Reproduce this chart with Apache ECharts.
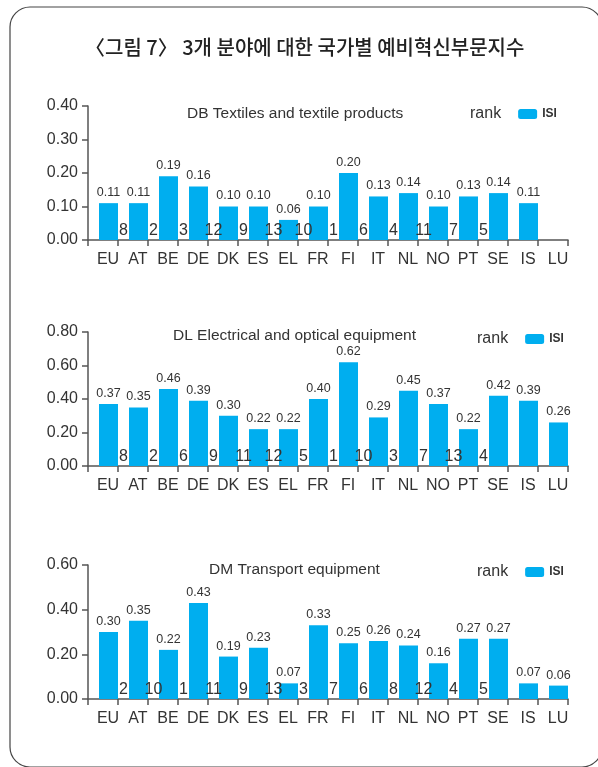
<!DOCTYPE html>
<html>
<head>
<meta charset="utf-8">
<script src="https://cdn.jsdelivr.net/npm/echarts@6/dist/echarts.min.js"></script>
<style>
  html, body { margin: 0; padding: 0; background: #fff; }
  #chart { width: 598px; height: 767px; }
</style>
</head>
<body>
<div id="chart"></div>
<script>
  // 국가 (공통 카테고리)
  var countries = ['EU', 'AT', 'BE', 'DE', 'DK', 'ES', 'EL', 'FR', 'FI', 'IT', 'NL', 'NO', 'PT', 'SE', 'IS', 'LU']

  // 패널 제목
  var panelTitles = ['DB Textiles and textile products', 'DL Electrical and optical equipment', 'DM Transport equipment']

  // ISI 값
  var isiDB = [0.11, 0.11, 0.19, 0.16, 0.10, 0.10, 0.06, 0.10, 0.20, 0.13, 0.14, 0.10, 0.13, 0.14, 0.11, null]
  var isiDL = [0.37, 0.35, 0.46, 0.39, 0.30, 0.22, 0.22, 0.40, 0.62, 0.29, 0.45, 0.37, 0.22, 0.42, 0.39, 0.26]
  var isiDM = [0.30, 0.35, 0.22, 0.43, 0.19, 0.23, 0.07, 0.33, 0.25, 0.26, 0.24, 0.16, 0.27, 0.27, 0.07, 0.06]

  // 순위 (EU, IS, LU 없음)
  var rankDB = [null, 8, 2, 3, 12, 9, 13, 10, 1, 6, 4, 11, 7, 5, null, null]
  var rankDL = [null, 8, 2, 6, 9, 11, 12, 5, 1, 10, 3, 7, 13, 4, null, null]
  var rankDM = [null, 2, 10, 1, 11, 9, 13, 3, 7, 6, 8, 12, 4, 5, null, null]

  // y축 눈금
  var yMaxes = [0.4, 0.8, 0.6]
  var yIntervals = [0.1, 0.2, 0.2]

  var isiList = [isiDB, isiDL, isiDM]
  var rankList = [rankDB, rankDL, rankDM]

  var barColor = '#00aeef'
  var textColor = '#333'
  var axisColor = '#555'
  var font = 'Liberation Sans, Arial, sans-serif'

  // 패널 위치
  var gridTops = [106, 332, 565]
  var titleTops = [101, 323, 557]
  var titleLefts = [182, 168, 204]
  var legendLefts = [441, 448, 448]
  var legendTops = [101, 326, 559]

  var grids = [], xAxes = [], yAxes = [], series = [], titles = [], legends = []

  titles.push({
    text: '〈그림 7〉 3개 분야에 대한 국가별 예비혁신부문지수',
    left: 80,
    top: 32,
    textStyle: { fontFamily: 'Noto Sans CJK KR', fontSize: 20, fontWeight: 500, color: '#222' }
  })

  for (var i = 0; i < 3; i++) {
    grids.push({ left: 88, right: 30, top: gridTops[i], height: 134 })
    xAxes.push({
      type: 'category',
      gridIndex: i,
      data: countries,
      axisLine: { lineStyle: { color: axisColor, width: 1.5 } },
      axisTick: { show: true, length: 6, lineStyle: { color: axisColor, width: 1.5 } },
      axisLabel: {
        interval: 0, fontSize: 16, color: textColor, fontFamily: font, margin: 12,
        padding: [0, 0, 0, 10]
      }
    })
    yAxes.push({
      type: 'value',
      gridIndex: i,
      min: 0,
      max: yMaxes[i],
      interval: yIntervals[i],
      splitLine: { show: false },
      axisLine: { show: true, lineStyle: { color: axisColor, width: 1.5 } },
      axisTick: { show: true, length: 6, lineStyle: { color: axisColor, width: 1.5 } },
      axisLabel: {
        fontSize: 16, color: textColor, fontFamily: font, margin: 10,
        formatter: function (v) { return v.toFixed(2) }
      }
    })
    titles.push({
      text: panelTitles[i],
      left: titleLefts[i],
      top: titleTops[i],
      textStyle: { fontSize: 15.5, fontWeight: 'normal', color: textColor, fontFamily: font }
    })
    legends.push({
      left: legendLefts[i],
      top: legendTops[i],
      itemWidth: 19,
      itemHeight: 10,
      itemGap: 17,
      selectedMode: false,
      data: [
        { name: 'rank', textStyle: { fontSize: 16, color: textColor, fontFamily: font } },
        { name: 'ISI', textStyle: { fontSize: 12, fontWeight: 'bold', color: textColor, fontFamily: font } }
      ]
    })
    // 순위 라벨 (높이 0 막대 위에 표시)
    series.push({
      name: 'rank',
      type: 'bar',
      xAxisIndex: i,
      yAxisIndex: i,
      barWidth: 11,
      barGap: '0%',
      itemStyle: { color: 'rgba(0,0,0,0)' },
      data: rankList[i].map(function (r) { return r == null ? null : { value: 0, rank: r } }),
      label: {
        show: true,
        position: 'top',
        distance: 1,
        fontSize: 16,
        color: textColor,
        fontFamily: font,
        formatter: function (p) { return p.data && p.data.rank != null ? String(p.data.rank) : '' }
      },
      silent: true
    })
    series.push({
      name: 'ISI',
      type: 'bar',
      xAxisIndex: i,
      yAxisIndex: i,
      barWidth: 19,
      barGap: '0%',
      itemStyle: { color: barColor },
      data: isiList[i],
      label: {
        show: true,
        position: 'top',
        distance: 4,
        fontSize: 12.5,
        color: textColor,
        fontFamily: font,
        formatter: function (p) { return p.value.toFixed(2) }
      }
    })
  }

  var myChart = echarts.init(document.getElementById('chart'))
  myChart.setOption({
    animation: false,
    title: titles,
    legend: legends,
    grid: grids,
    xAxis: xAxes,
    yAxis: yAxes,
    series: series,
    graphic: [{
      type: 'rect',
      shape: { x: 10, y: 7, width: 592, height: 760, r: 20 },
      style: { fill: 'none', stroke: '#444', lineWidth: 1.2 },
      silent: true
    }]
  })
</script>
</body>
</html>
